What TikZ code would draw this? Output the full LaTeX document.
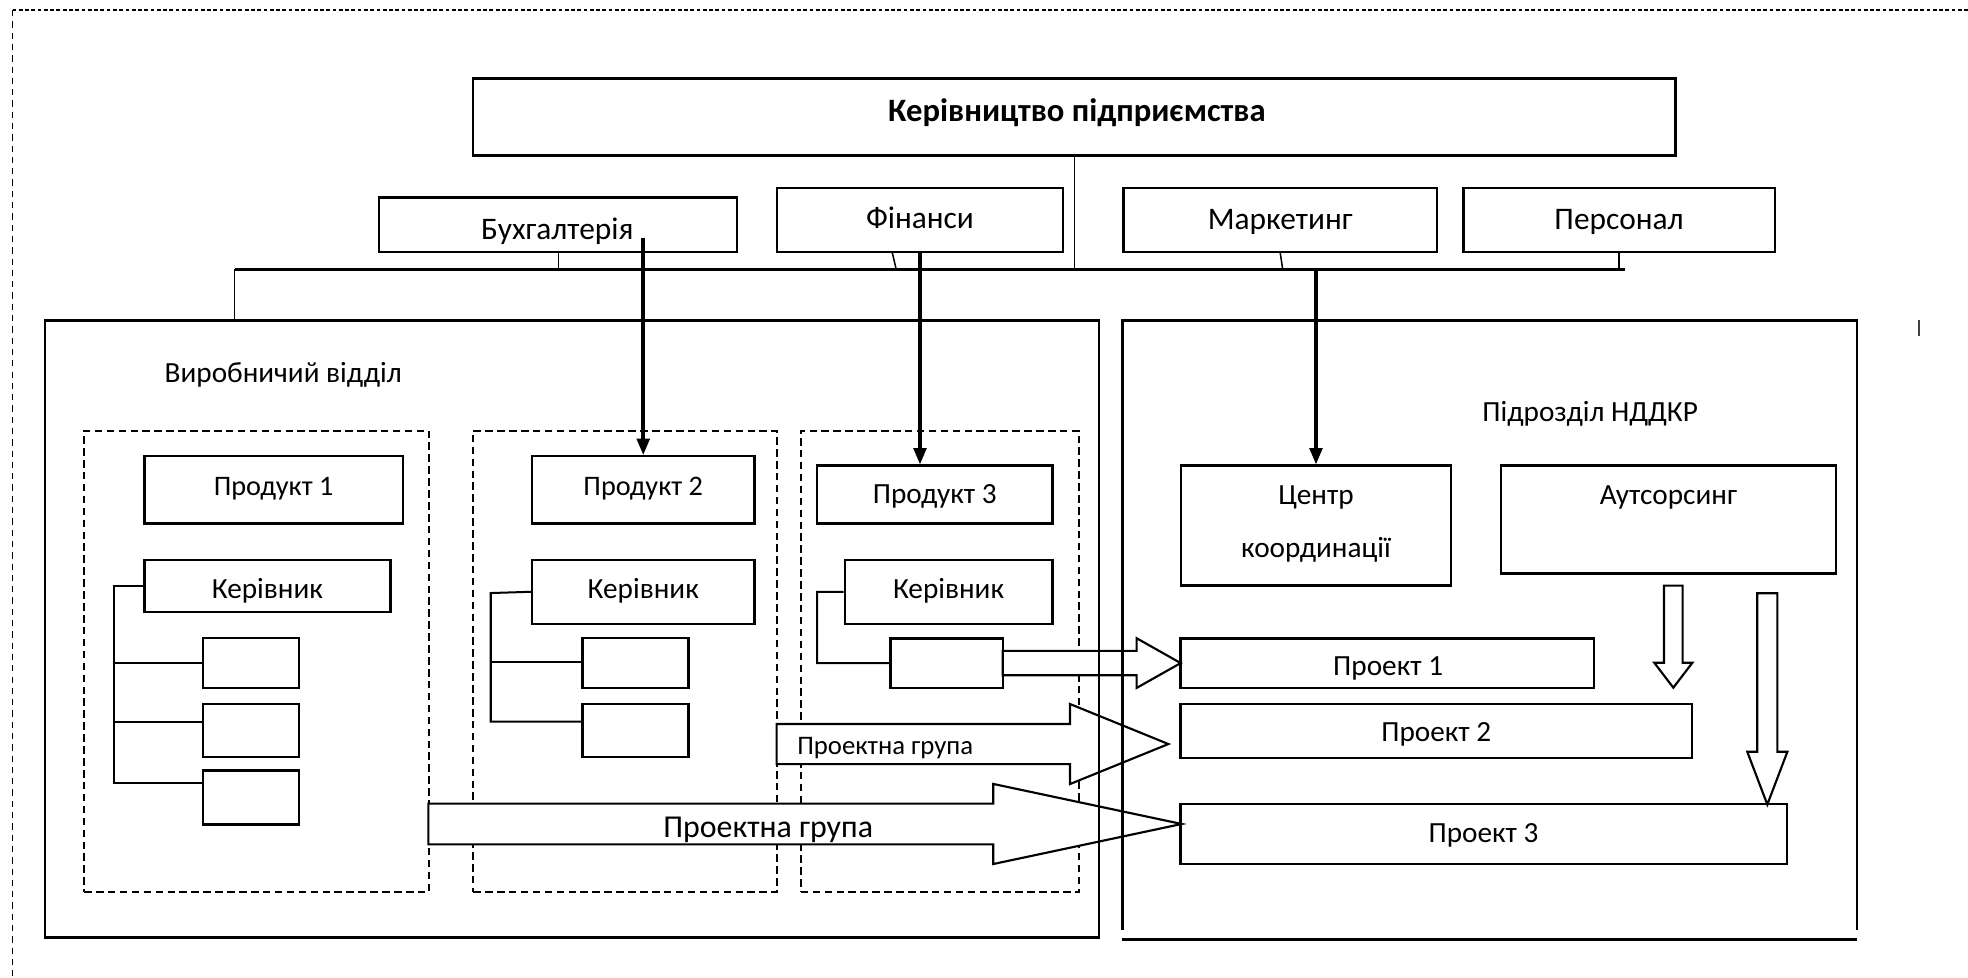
\documentclass[tikz,border=0pt]{standalone}
\usepackage{fontspec}
\setmainfont{Carlito}
\usetikzlibrary{arrows.meta,fit,calc}
% rectangle node spanning two corners: style, name, x1, y1, x2, y2
\newcommand\mkbox[6]{\node[#1, fit={(#3,#4) (#5,#6)}] (#2) {};}
% hollow block arrow pointing right: x0, head base x, tip x, centre y, shaft half, head half
\newcommand\blockright[6]{\draw[blk] (#1,#4-#5) -- (#2,#4-#5) -- (#2,#4-#6) -- (#3,#4) -- (#2,#4+#6) -- (#2,#4+#5) -- (#1,#4+#5) -- cycle;}
% hollow block arrow pointing down: centre x, top y, head base y, tip y, shaft half, head half
\newcommand\blockdown[6]{\draw[blk] (#1-#5,#2) -- (#1+#5,#2) -- (#1+#5,#3) -- (#1+#6,#3) -- (#1,#4) -- (#1-#6,#3) -- (#1-#5,#3) -- cycle;}
\begin{document}
\begin{tikzpicture}[x=1pt,y=-1pt,
  box/.style={draw, line width=1.9pt, inner sep=0pt},
  frame/.style={draw=none, inner sep=0pt},
  grp/.style={draw, line width=1.6pt, dash pattern=on 6pt off 3.5pt, inner sep=0pt},
  lbl/.style={anchor=base, inner sep=0pt, font=\fontsize{23.3}{27}\selectfont},
  head/.style={anchor=base, inner sep=0pt, font=\fontsize{25}{29}\selectfont},
  link/.style={line width=1.2pt},
  tree/.style={line width=1.6pt},
  feed/.style={line width=2.8pt, -{Triangle[length=13pt,width=10pt]}},
  blk/.style={draw, fill=white, line width=1.7pt, line join=miter},
]
\useasboundingbox (0,0) rectangle (1568,779);

% outer dashed border (top and left only)
\coordinate (oTL) at (10,8);
\coordinate (oTR) at (1568,8);
\coordinate (oBL) at (10,779);
\draw[line width=1.1pt, dash pattern=on 3pt off 2pt] (oTL) -- (oTR);
\draw[line width=1.1pt, dash pattern=on 5pt off 4pt] (oTL) -- (oBL);

% product groups (dashed)
\mkbox{grp}{g1}{67}{343}{341.5}{711}
\mkbox{grp}{g2}{377}{343}{618.8}{711}
\mkbox{grp}{g3}{638}{343}{859.5}{711}

% management and staff services
\mkbox{box}{kp}{377}{62.5}{1335}{124}
\mkbox{box}{buh}{302}{157.5}{587}{200.6}
\mkbox{box}{fin}{619}{150}{847}{200.6}
\mkbox{box}{mark}{895}{150}{1145}{200.6}
\mkbox{box}{pers}{1166}{150}{1414}{200.6}

% distribution bus
\coordinate (busL) at (187,214.5);
\coordinate (busR) at (1295,214.5);
\draw[line width=2.2pt] (busL) -- (busR);
\draw[link] (kp.south) -- (kp.south |- busL);
\draw[link] (445,200.6) -- (445,214.5);
\draw[link] ($(fin.south)+(-22,0)$) -- ($(fin.south |- busL)+(-19,0)$);
\draw[link] (mark.south) -- ($(mark.south |- busL)+(2,0)$);
\draw[link] (pers.south) -- (pers.south |- busL);
\draw[link] (busL) -- (187,255.5);

% products, managers and staff
\mkbox{box}{prod1}{115}{363.5}{321}{417}
\mkbox{box}{prod2}{424}{363.5}{601}{417}
\mkbox{box}{prod3}{651}{371}{838.5}{417}
\mkbox{box}{k1}{115}{446}{311}{487.5}
\mkbox{box}{k2}{424}{446}{601}{497}
\mkbox{box}{k3}{673}{446}{838.5}{497}
\mkbox{box}{s11}{161.5}{508.5}{238}{548}
\mkbox{box}{s12}{161.5}{561}{238}{603}
\mkbox{box}{s13}{161.5}{614}{238}{657}
\mkbox{box}{s21}{464}{508.5}{548.5}{548}
\mkbox{box}{s22}{464}{561}{548.5}{603}
\mkbox{box}{s31}{709.6}{508.6}{798.9}{548.2}

% reporting lines inside the groups
\draw[tree] (k1.west) -- (91,466.75) -- (91,624) -- (s13.west |- 0,624);
\draw[tree] (91,528.25) -- (s11.west);
\draw[tree] (91,575) -- (s12.west |- 0,575);
\draw[tree] (k2.west |- 0,471.5) -- (391,472.5) -- (391,575) -- (s22.west |- 0,575);
\draw[tree] (391,527.5) -- (s21.west |- 0,527.5);
\draw[tree] (k3.west |- 0,471.5) -- (651,471.5) -- (651,528.4) -- (s31.west);

% R&D unit
\mkbox{box}{centr}{941}{371}{1156}{466.5}
\mkbox{box}{auts}{1196}{371}{1462.6}{457}
\mkbox{box}{p1}{940.7}{508.6}{1270}{548.2}
\mkbox{box}{p2}{940.7}{561}{1348}{604}
\mkbox{box}{p3}{940.7}{640.7}{1424}{688.5}

% hollow block arrows
\blockright{798.9}{905.6}{940.7}{528.3}{9.7}{19.8}
\blockright{618.8}{852.5}{930.9}{592.8}{16}{31.9}
\blockright{341.3}{791.4}{941.5}{656.5}{16.2}{31.9}
\blockdown{1333.2}{466.6}{528}{547.9}{7.4}{15.2}
\blockdown{1408.1}{472.7}{598.9}{641}{8}{16}

% production department and R&D unit frames
\mkbox{box}{vyr}{36}{255.5}{875.5}{747}
\node[frame, fit={(894.5,255.5) (1479.5,748.5)}] (nd) {};
\draw[line width=1.9pt] ($(nd.south west)+(0,-8)$) -- (nd.north west) -- (nd.north east) -- ($(nd.south east)+(0,-8)$);
\draw[line width=2.4pt] (nd.south west) -- (nd.south east);
\coordinate (tickT) at (1529,255);
\coordinate (tickB) at (1529,268);
\draw[line width=2pt, black!75] (tickT) -- (tickB);

% texts
\node[anchor=base, inner sep=0pt, font=\fontsize{26}{30}\selectfont\bfseries] (tkp) at (858,96.7) {Керівництво підприємства};
\node[head] (tbuh) at (444,190.7) {Бухгалтерія};
\node[head] (tfin) at (733,182) {Фінанси};
\node[head] (tmark) at (1020,182.5) {Маркетинг};
\node[head] (tpers) at (1290,182.5) {Персонал};
\node[lbl, anchor=base west] (tvyr) at (131,304.8) {Виробничий відділ};
\node[lbl] (tnd) at (1267,336) {Підрозділ НДДКР};
\node[lbl, font=\fontsize{22.5}{27}\selectfont] (tp1) at (prod1.center |- 0,394.4) {Продукт 1};
\node[lbl, font=\fontsize{22.5}{27}\selectfont] (tp2) at (prod2.center |- 0,394.4) {Продукт 2};
\node[lbl] (tp3) at (prod3.center |- 0,401) {Продукт 3};
\node[lbl] (tk1) at (k1.center |- 0,477) {Керівник};
\node[lbl] (tk2) at (k2.center |- 0,477) {Керівник};
\node[lbl] (tk3) at (k3.center |- 0,477) {Керівник};
\node[lbl] (tc1) at (centr.center |- 0,402) {Центр};
\node[lbl] (tc2) at (centr.center |- 0,444) {координації};
\node[lbl] (tauts) at (auts.center |- 0,402) {Аутсорсинг};
\node[lbl] (tpr1) at (1106,538.5) {Проект 1};
\node[lbl] (tpr2) at (p2.center |- 0,591) {Проект 2};
\node[lbl] (tpr3) at (1182,671) {Проект 3};
\node[anchor=base west, inner sep=0pt, font=\fontsize{21.3}{25}\selectfont] (tg1) at (635,601) {Проектна група};
\node[anchor=base, inner sep=0pt, font=\fontsize{25.4}{29}\selectfont] (tg2) at (612,667) {Проектна група};

% coordination flows from the staff services
\coordinate (buhArr) at (prod2.north |- 0,190);
\draw[feed] (buhArr) -- (prod2.north);
\draw[feed] (fin.south) -- (fin.south |- prod3.north);
\draw[feed] (centr.north |- busL) -- (centr.north);
\end{tikzpicture}
\end{document}
